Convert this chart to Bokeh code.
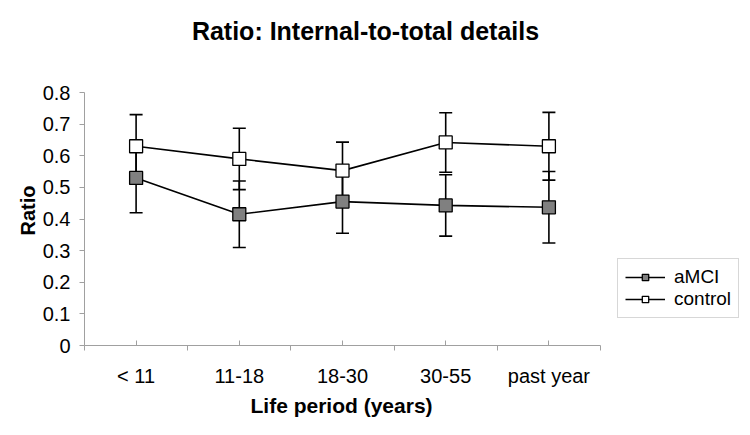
from bokeh.plotting import figure
from bokeh.models import (FixedTicker, Range1d, Legend, LegendItem, Whisker, TeeHead,
                          ColumnDataSource, Title, Label)
from bokeh.embed import file_html
from bokeh.resources import INLINE

categories = ["< 11", "11-18", "18-30", "30-55", "past year"]
amci = [0.53, 0.415, 0.455, 0.443, 0.437]
amci_err = [0.11, 0.105, 0.10, 0.097, 0.113]
control = [0.63, 0.59, 0.553, 0.642, 0.63]
control_err = [0.10, 0.097, 0.09, 0.094, 0.107]
y_ticks = [0, 0.1, 0.2, 0.3, 0.4, 0.5, 0.6, 0.7, 0.8]
y_max = 0.8

FONT = "Liberation Sans"
xs = [i + 0.5 for i in range(len(categories))]
n = len(categories)

# layout (pixels)
W, H = 742, 419
LEFT, BOTTOM = 84, 74
FRAME_W, FRAME_H = W - LEFT, H - BOTTOM
AXIS_W, AXIS_H = 516, 253          # pixel extent of the drawn axes
x_end = n * FRAME_W / AXIS_W
y_end = y_max * FRAME_H / AXIS_H

p = figure(width=W, height=H, output_backend="svg", toolbar_location=None,
           x_range=Range1d(0, x_end), y_range=Range1d(0, y_end),
           min_border_left=LEFT, min_border_top=0, min_border_bottom=BOTTOM,
           min_border_right=0)
p.outline_line_color = None
p.grid.visible = False
p.background_fill_color = "white"
p.border_fill_color = "white"

# title (placed in pixel terms converted through the scales)
title = Label(text="Ratio: Internal-to-total details",
              x=n * 281 / AXIS_W, y=y_max * 315 / AXIS_H,
              text_align="center", text_baseline="middle", text_font=FONT,
              text_font_size="25px", text_font_style="bold", text_color="black")
p.add_layout(title)

# x axis
xa = p.xaxis[0]
xa.bounds = (0, n)
xa.ticker = FixedTicker(ticks=xs, minor_ticks=list(range(n + 1)))
xa.major_label_overrides = {x: c for x, c in zip(xs, categories)}
xa.major_tick_in = 5
xa.major_tick_out = 0
xa.minor_tick_in = 0
xa.minor_tick_out = 5
xa.axis_line_color = "#a0a0a0"
xa.major_tick_line_color = "#a0a0a0"
xa.minor_tick_line_color = "#a0a0a0"
xa.major_label_text_font = FONT
xa.major_label_text_font_size = "20px"
xa.major_label_text_color = "black"
xa.major_label_standoff = 14

xlab = Title(text="Life period (years)", align="left", text_font=FONT,
             text_font_size="21px", text_font_style="bold", text_color="black",
             offset=166, standoff=4)
p.add_layout(xlab, "below")

# y axis
ya = p.yaxis[0]
ya.bounds = (0, y_max)
ya.ticker = FixedTicker(ticks=y_ticks)
ya.major_label_overrides = {v: ("0" if v == 0 else f"{v:.1f}") for v in y_ticks}
ya.major_tick_in = 0
ya.major_tick_out = 5
ya.minor_tick_line_color = None
ya.axis_line_color = "#a0a0a0"
ya.major_tick_line_color = "#a0a0a0"
ya.major_label_text_font = FONT
ya.major_label_text_font_size = "20px"
ya.major_label_text_color = "black"
ya.major_label_standoff = 9

ylab = Title(text="Ratio", align="left", text_font=FONT,
             text_font_size="20px", text_font_style="bold", text_color="black",
             offset=110, standoff=2)
p.add_layout(ylab, "left")

def add_series(vals, errs):
    src = ColumnDataSource(dict(x=xs, y=vals,
                                lo=[v - e for v, e in zip(vals, errs)],
                                hi=[v + e for v, e in zip(vals, errs)]))
    ln = p.line("x", "y", source=src, line_color="black", line_width=1.6)
    w = Whisker(base="x", lower="lo", upper="hi", source=src, dimension="height",
                line_color="black", line_width=1.6,
                lower_head=TeeHead(size=13, line_color="black", line_width=1.6),
                upper_head=TeeHead(size=13, line_color="black", line_width=1.6))
    p.add_layout(w)
    return src, ln

src_a, ln_a = add_series(amci, amci_err)
src_c, ln_c = add_series(control, control_err)
mk_a = p.scatter("x", "y", source=src_a, marker="square", size=13, fill_color="#808080",
                 line_color="black", line_width=1.3)
mk_c = p.scatter("x", "y", source=src_c, marker="square", size=13, fill_color="white",
                 line_color="black", line_width=1.3)

legend = Legend(items=[LegendItem(label="aMCI", renderers=[ln_a, mk_a]),
                       LegendItem(label="control", renderers=[ln_c, mk_c])],
                label_text_font=FONT, label_text_font_size="19px", label_text_color="black",
                border_line_color="#b0b0b0", border_line_width=1,
                glyph_width=40, glyph_height=16, label_height=16, spacing=0, padding=7,
                label_standoff=9, margin=0, location=(533, 27))
p.add_layout(legend, "center")

open("out.html", "w").write(file_html(p, INLINE))
